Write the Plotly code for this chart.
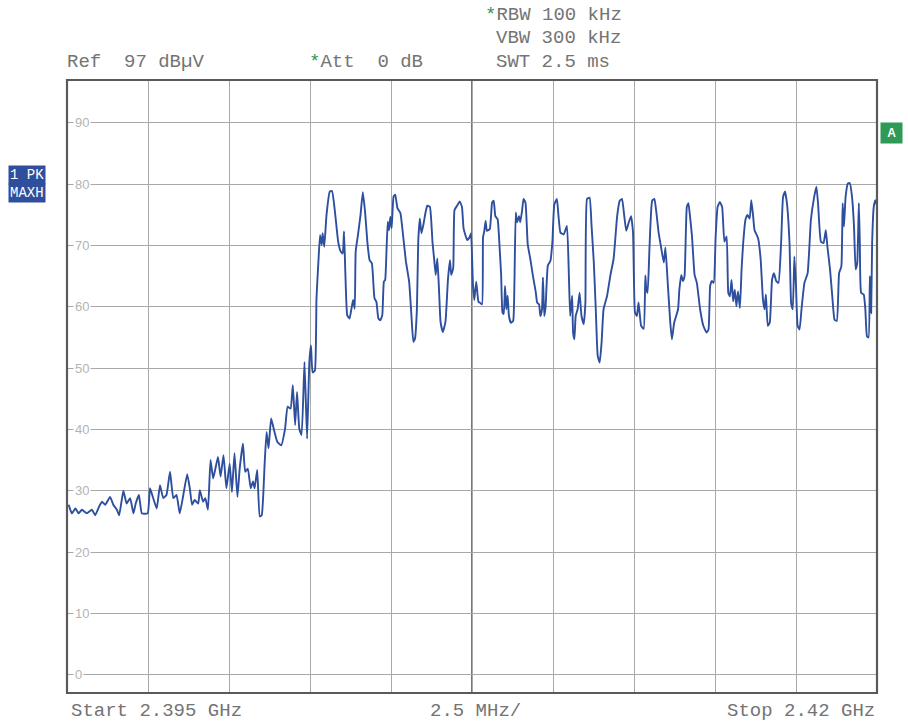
import plotly.graph_objects as go

START_MHZ = 2395.0
STOP_MHZ = 2420.0
DIV_MHZ = 2.5
REF_LEVEL = 97
RANGE_DB = 100
LEVEL_GRID = [0, 10, 20, 30, 40, 50, 60, 70, 80, 90]

# Trace: frequency offset from start (MHz) and level (dBuV)
FREQ_OFFSET_MHZ = [
    0.05, 0.15, 0.26, 0.36, 0.46, 0.61, 0.77, 0.87, 0.99, 1.08, 1.18, 1.33, 1.43, 1.54, 1.61,
    1.74, 1.84, 1.95, 2.05, 2.12, 2.22, 2.31, 2.49, 2.56, 2.66, 2.77, 2.87, 2.97, 3.07, 3.18,
    3.28, 3.38, 3.48, 3.59, 3.71, 3.79, 3.86, 3.94, 4.05, 4.10, 4.20, 4.27, 4.35, 4.43, 4.51,
    4.58, 4.66, 4.74, 4.83, 4.92, 5.02, 5.09, 5.17, 5.26, 5.33, 5.43, 5.50, 5.58, 5.67, 5.74,
    5.79, 5.87, 5.95, 6.01, 6.10, 6.16, 6.22, 6.30, 6.38, 6.49, 6.61, 6.73, 6.81, 6.90, 6.97,
    7.04, 7.10, 7.17, 7.24, 7.33, 7.41, 7.48, 7.53, 7.58, 7.65,
    7.70, 7.76, 7.81, 7.86, 7.89, 7.94, 8.01, 8.11, 8.18, 8.27, 8.37, 8.45, 8.51, 8.55, 8.59,
    8.65, 8.72, 8.78, 8.83, 8.88, 8.91, 8.98, 9.06, 9.13, 9.20, 9.27, 9.34, 9.41, 9.49, 9.55,
    9.61, 9.67, 9.73, 9.78, 9.82, 9.86, 9.90, 9.94, 9.98, 10.02, 10.08, 10.13, 10.20, 10.29,
    10.36, 10.46, 10.56, 10.63, 10.69, 10.74, 10.80, 10.84, 10.89, 10.94, 11.00, 11.07, 11.12,
    11.20, 11.28, 11.33, 11.38, 11.43, 11.48, 11.53, 11.60, 11.68, 11.76, 11.82, 11.86, 11.92,
    11.96, 12.04, 12.12, 12.19, 12.24, 12.35, 12.43, 12.47, 12.53, 12.57, 12.63, 12.70,
    12.74, 12.81, 12.84, 12.88, 12.92, 12.96, 13.05, 13.12, 13.17, 13.22, 13.29, 13.35, 13.40,
    13.44, 13.48, 13.52, 13.56, 13.60, 13.64, 13.70, 13.77, 13.81, 13.85, 13.89, 13.95, 13.99,
    14.05, 14.09, 14.15, 14.22, 14.30, 14.38, 14.47, 14.51, 14.57, 14.61, 14.66, 14.69, 14.73,
    14.77, 14.84, 14.92, 14.98, 15.04, 15.12, 15.17, 15.23, 15.33, 15.43, 15.49, 15.53, 15.59,
    15.62, 15.66, 15.70, 15.76, 15.82, 15.88, 15.95, 16.00, 16.05, 16.13, 16.19, 16.26, 16.32,
    16.38, 16.44, 16.50, 16.56, 16.67, 16.77, 16.87, 16.98, 17.06, 17.13, 17.20, 17.26, 17.34,
    17.41, 17.47, 17.53, 17.59, 17.64, 17.72, 17.80, 17.85, 17.88, 17.92, 17.98, 18.06, 18.13,
    18.19, 18.26, 18.33, 18.42, 18.47, 18.54, 18.62, 18.67, 18.74,
    18.86, 18.90, 18.96, 19.01, 19.06, 19.13, 19.18, 19.23, 19.29, 19.37, 19.44, 19.54, 19.64,
    19.74, 19.80, 19.85, 19.90, 19.96, 20.02, 20.08, 20.15, 20.22, 20.29, 20.36, 20.41, 20.46,
    20.51, 20.56, 20.61, 20.66, 20.71, 20.77, 20.82, 20.87, 20.94, 21.00, 21.07, 21.12, 21.17,
    21.22, 21.33, 21.41, 21.48, 21.53, 21.57, 21.63, 21.69, 21.76, 21.82, 21.89, 21.96, 22.04,
    22.10, 22.16, 22.22, 22.30, 22.35, 22.40, 22.45, 22.50, 22.55, 22.61, 22.67, 22.76, 22.86,
    22.96, 23.06, 23.13, 23.18, 23.27, 23.35, 23.42, 23.47, 23.55, 23.62, 23.69, 23.76, 23.83,
    23.90, 23.94, 23.98, 24.03, 24.10, 24.16, 24.23, 24.29, 24.34, 24.39, 24.44, 24.47, 24.51,
    24.59, 24.64, 24.69, 24.74, 24.78, 24.82, 24.85, 24.90, 24.95, 25.00,
]
LEVEL_DBUV = [
    27.7, 26.3, 27.1, 26.3, 26.9, 26.3, 26.9, 26.0, 27.4, 28.2, 27.7, 29.0, 27.7, 26.9, 26.0,
    30.0, 27.9, 28.8, 26.3, 27.9, 29.3, 26.3, 26.3, 30.4, 28.8, 27.1, 30.9, 28.8, 29.3, 33.1,
    28.8, 29.3, 26.3, 29.3, 32.7, 30.4, 27.7, 28.5, 27.9, 30.1, 28.2, 28.8, 26.9, 35.0, 32.0,
    33.6, 35.5, 32.3, 35.8, 30.4, 34.4, 29.8, 36.1, 29.0, 33.6, 37.7, 33.1, 33.6, 30.4, 31.5,
    30.4, 33.4, 25.8, 26.0, 34.4, 39.6, 36.9, 41.8, 40.1, 38.0, 37.4, 40.1, 43.7, 43.4, 47.2,
    40.7, 46.1, 40.1, 39.1, 51.0, 38.5, 51.0, 53.7, 49.3, 49.6,
    61.4, 67.4, 71.7, 70.1, 72.0, 69.8, 75.0, 78.8, 78.9, 75.5, 70.6, 69.0, 68.7, 72.3, 65.7,
    58.6, 58.1, 59.7, 61.1, 59.7, 69.0, 71.7, 75.0, 78.7, 75.5, 70.6, 67.6, 67.1, 61.4, 60.8,
    58.1, 57.8, 58.6, 64.1, 64.4, 69.0, 73.9, 72.5, 74.7, 72.8, 78.0, 78.3, 76.1, 75.3,
    72.3, 67.4, 64.1, 58.6, 54.3, 54.8, 59.7, 70.6, 74.4, 72.0, 73.4, 75.5, 76.5,
    76.3, 70.6, 67.9, 65.2, 67.9, 63.0, 57.5, 55.9, 57.5, 64.6, 67.6, 65.2, 66.3,
    75.8, 76.5, 77.2, 76.3, 72.8, 70.9, 71.4, 72.0, 63.5, 61.1, 64.1, 60.8,
    60.7, 60.4, 71.3, 72.4, 74.0, 72.4, 72.7, 77.0, 77.3, 74.8, 74.3, 69.9, 65.1,
    59.1, 58.8, 63.4, 59.6, 61.8, 58.5, 57.4, 57.7, 64.0, 75.4, 73.8, 74.8, 73.8,
    75.9, 77.6, 77.0, 70.2, 67.8, 65.1, 62.3, 60.7, 60.4, 58.5, 59.6, 64.8, 58.5,
    59.9, 66.7, 67.5, 70.5, 76.7, 77.6, 74.8, 72.1, 71.8, 73.2, 65.1, 58.5, 61.8,
    55.8, 54.7, 58.5, 59.6, 62.3, 58.5, 57.2, 60.7, 77.6, 77.8, 73.2, 67.2, 59.6,
    52.0, 50.9, 54.2, 59.6, 61.8, 65.1, 67.8, 74.8, 77.3, 77.6, 74.8, 72.4, 73.8,
    74.8, 72.1, 59.1, 58.5, 60.7, 56.9, 56.4, 65.1, 62.9, 62.3, 69.9, 77.3, 77.6,
    75.4, 72.1, 69.9, 67.2, 69.7, 64.0, 57.4, 54.7, 57.4,
    59.6, 62.8, 65.2, 64.2, 65.0, 76.3, 76.9, 74.7, 71.5, 65.2, 63.9, 59.6, 56.9,
    55.8, 56.3, 63.4, 64.2, 63.9, 71.5, 76.3, 77.1, 76.3, 70.6, 71.5, 62.3, 61.7,
    64.4, 60.9, 62.8, 60.1, 62.5, 59.8, 66.1, 70.4, 74.2, 75.0, 74.4, 77.4, 75.2,
    72.5, 71.2, 67.7, 61.2, 59.6, 62.0, 56.9, 57.4, 64.4, 65.5, 64.2, 63.9, 70.4,
    77.9, 78.8, 76.9, 70.4, 60.6, 59.6, 68.2, 63.4, 56.9, 56.3, 59.6, 63.9, 65.5,
    74.2, 77.9, 79.6, 76.9, 70.6, 70.4, 72.5, 69.8, 66.1, 61.7, 57.9, 57.7, 65.5,
    66.6, 76.9, 73.1, 77.9, 80.1, 80.2, 77.9, 73.1, 66.1, 67.2, 76.9, 70.4, 62.3,
    62.0, 59.6, 55.2, 55.0, 65.0, 59.0, 70.4, 76.3, 77.4, 76.6,
]

freq_mhz = [START_MHZ + f for f in FREQ_OFFSET_MHZ]
n_div = int(round((STOP_MHZ - START_MHZ) / DIV_MHZ))
x_grid = [START_MHZ + i * DIV_MHZ for i in range(n_div + 1)]
y_min = REF_LEVEL - RANGE_DB

TEXT_GRAY = "#747474"
MONO = "Liberation Mono, Courier New, monospace"
NB = "\u00a0"

fig = go.Figure()
fig.add_trace(go.Scatter(
    x=freq_mhz, y=LEVEL_DBUV, mode="lines",
    line=dict(color="#2d4f9e", width=1.9, shape="spline", smoothing=0.4),
    hoverinfo="skip", showlegend=False,
))

fig.update_layout(
    width=908, height=722,
    margin=dict(l=67, r=31, t=80, b=29),
    paper_bgcolor="white", plot_bgcolor="white",
    xaxis=dict(range=[START_MHZ, STOP_MHZ], tickvals=x_grid, showticklabels=False,
               showgrid=True, gridcolor="#a8a8a8", gridwidth=1, zeroline=False,
               ticks="", showline=False),
    yaxis=dict(range=[y_min, REF_LEVEL], tickvals=LEVEL_GRID, showticklabels=False,
               showgrid=True, gridcolor="#a8a8a8", gridwidth=1, zeroline=False,
               ticks="", showline=False),
    font=dict(family=MONO, color=TEXT_GRAY),
)

shapes = [
    dict(type="line", xref="x", yref="paper", x0=x_grid[n_div // 2], x1=x_grid[n_div // 2],
         y0=0, y1=1, line=dict(color="#555555", width=1.6), layer="below"),
    dict(type="rect", xref="paper", yref="paper", x0=0, x1=1, y0=0, y1=1,
         line=dict(color="#5a5a5a", width=2.2)),
]
fig.update_layout(shapes=shapes)

ann = []
# level labels inside the grid
for lv in LEVEL_GRID[::-1]:
    ann.append(dict(xref="paper", yref="y", x=0.008, y=lv, text=str(lv),
                    showarrow=False, xanchor="left", yanchor="middle",
                    bgcolor="white", borderpad=1,
                    font=dict(family="Liberation Sans, Arial, sans-serif", size=13, color="#b4b4b4")))

def txt(x, y, t, anchor="left", size=19, color=TEXT_GRAY):
    ann.append(dict(xref="paper", yref="paper", x=x, y=y, text=t, showarrow=False,
                    xanchor=anchor, yanchor="middle",
                    font=dict(family=MONO, size=size, color=color)))

star = '<span style="color:#2e9a55">*</span>'
txt(-0.003, 1.029, f"Ref{NB}{NB}97{NB}dB\u00b5V")
txt(0.296, 1.029, f"{star}Att{NB}{NB}0{NB}dB")
txt(0.513, 1.106, f"{star}RBW{NB}100{NB}kHz")
txt(0.527, 1.0685, f"VBW{NB}300{NB}kHz")
txt(0.527, 1.029, f"SWT{NB}2.5{NB}ms")
txt(0.003, -0.029, f"Start{NB}2.395{NB}GHz")
txt(0.446, -0.029, f"2.5{NB}MHz/")
txt(1.0, -0.029, f"Stop{NB}2.42{NB}GHz", anchor="right")

# trace indicator boxes
for yy, t in [(0.845, f"1{NB}PK"), (0.816, "MAXH")]:
    ann.append(dict(xref="paper", yref="paper", x=-0.0728, y=yy, text=t, showarrow=False,
                    xanchor="left", yanchor="middle", bgcolor="#2f4f9c", borderpad=1,
                    font=dict(family=MONO, size=14, color="white")))
ann.append(dict(xref="paper", yref="paper", x=1.004, y=0.9135, text=f"{NB}<b>A</b>{NB}",
                showarrow=False, xanchor="left", yanchor="middle", bgcolor="#2e9a55", borderpad=3,
                font=dict(family="Liberation Sans, Arial, sans-serif", size=12, color="white")))

fig.update_layout(annotations=ann)
fig.write_html(
    "out.html",
    config={"displayModeBar": False},
    post_script="document.body.style.margin='0';document.body.style.overflow='hidden';",
)
